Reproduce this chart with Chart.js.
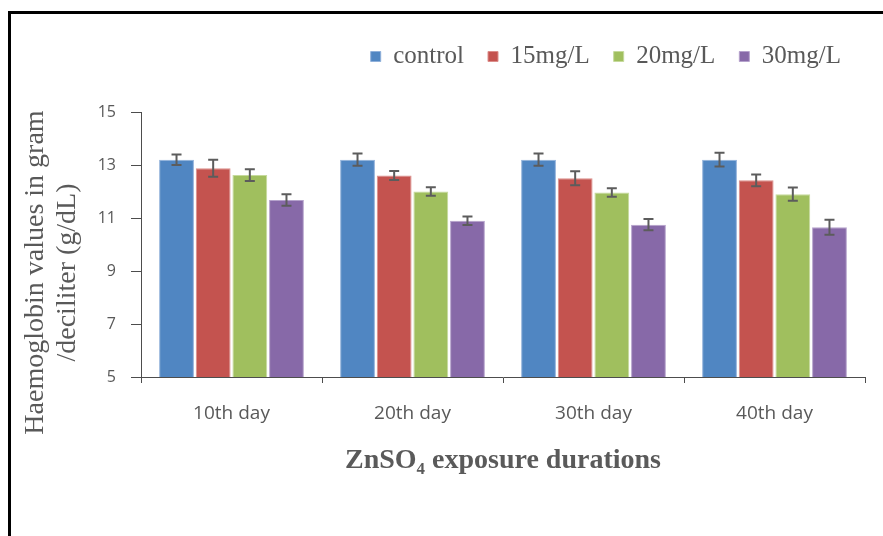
<!DOCTYPE html>
<html>
<head>
<meta charset="utf-8">
<script src="https://cdn.jsdelivr.net/npm/chart.js@4.4.1/dist/chart.umd.min.js"></script>
<style>
  html, body { margin: 0; padding: 0; background: #fff; overflow: hidden; }
  #wrap { position: relative; width: 883px; height: 536px; overflow: hidden; }
  #frame { position: absolute; left: 8px; top: 11px; width: 2000px; height: 2000px; border: 3px solid #000; pointer-events: none; }
  #hbChart { position: absolute; left: 0; top: 0; }
</style>
</head>
<body>
<div id="wrap">
  <div id="frame"></div>
  <canvas id="hbChart" width="883" height="536"></canvas>
</div>
<script>
// durations on the x axis
const days = ['10th day', '20th day', '30th day', '40th day']
const seriesNames = ['control', '15mg/L', '20mg/L', '30mg/L']

// haemoglobin (g/dL)
const control = [13.2, 13.2, 13.2, 13.2]
const mg15 = [12.88, 12.6, 12.5, 12.42]
const mg20 = [12.62, 12.0, 11.96, 11.9]
const mg30 = [11.68, 10.9, 10.75, 10.65]

// error bar half-lengths
const controlErr = [0.2, 0.23, 0.23, 0.26]
const mg15Err = [0.32, 0.17, 0.26, 0.22]
const mg20Err = [0.22, 0.16, 0.16, 0.25]
const mg30Err = [0.22, 0.16, 0.21, 0.28]

const yTicks = [5, 7, 9, 11, 13, 15]
const yTitleLines = ['Haemoglobin values in gram', '/deciliter (g/dL)']

const colors = ['#5086C2', '#C4534F', '#A0BF5E', '#8769A8']
const edges = ['#8FB0DA', '#DC8E8B', '#C6DA9C', '#B5A2CC']
const grey = '#595959'
const serif = '"Liberation Serif", "Times New Roman", serif'

const errorBars = {
  id: 'errorBars',
  afterDatasetsDraw(chart) {
    const { ctx, scales: { y } } = chart
    ctx.save()
    ctx.strokeStyle = '#5c5c5c'
    ctx.lineWidth = 2
    chart.data.datasets.forEach((ds, i) => {
      const meta = chart.getDatasetMeta(i)
      meta.data.forEach((bar, j) => {
        const v = ds.data[j]
        const e = ds.errors[j]
        const top = y.getPixelForValue(v + e)
        const bot = y.getPixelForValue(v - e)
        ctx.beginPath()
        ctx.moveTo(bar.x, top); ctx.lineTo(bar.x, bot)
        ctx.moveTo(bar.x - 5, top); ctx.lineTo(bar.x + 5, top)
        ctx.moveTo(bar.x - 5, bot); ctx.lineTo(bar.x + 5, bot)
        ctx.stroke()
      })
    })
    ctx.restore()
  }
}

// leave some room between the legend and the plot
const legendGap = {
  id: 'legendGap',
  beforeInit(chart) {
    const fit = chart.legend.fit
    chart.legend.fit = function () {
      fit.call(this)
      this.height += 33
    }
  }
}

// y title sits a bit below the middle of the axis, like in the original
const yTitle = {
  id: 'yTitle',
  afterDraw(chart) {
    const { ctx, chartArea } = chart
    const cy = (chartArea.top + chartArea.bottom) / 2 + 28
    ctx.save()
    ctx.translate(36, cy)
    ctx.rotate(-Math.PI / 2)
    ctx.font = '28px ' + serif
    ctx.fillStyle = grey
    ctx.textAlign = 'center'
    ctx.textBaseline = 'middle'
    yTitleLines.forEach((t, i) => ctx.fillText(t, 0, i * 32))
    ctx.restore()
  }
}

const values = [control, mg15, mg20, mg30]
const errs = [controlErr, mg15Err, mg20Err, mg30Err]

const ctx = document.getElementById('hbChart')

new Chart(ctx, {
  type: 'bar',
  data: {
    labels: days,
    datasets: seriesNames.map((name, i) => ({
      label: name,
      data: values[i],
      errors: errs[i],
      backgroundColor: colors[i],
      borderColor: edges[i],
      borderWidth: 1,
      categoryPercentage: 0.81,
      barPercentage: 0.95
    }))
  },
  options: {
    responsive: false,
    animation: false,
    devicePixelRatio: 1,
    layout: { padding: { left: 20, right: 18, top: 20, bottom: 40 } },
    plugins: {
      tooltip: { enabled: false },
      legend: {
        position: 'top',
        align: 'end',
        labels: {
          boxWidth: 10,
          boxHeight: 10,
          padding: 24,
          color: grey,
          font: { family: serif, size: 25 }
        }
      }
    },
    scales: {
      x: {
        afterFit: (scale) => { scale.height = 119 },
        grid: { drawOnChartArea: false, drawTicks: true, tickLength: 6, color: '#4d4d4d' },
        border: { display: true, color: '#4d4d4d', width: 1 },
        ticks: {
          color: grey,
          padding: 19,
          font: { family: '"Open Sans", sans-serif', size: 19 }
        },
        title: {
          display: true,
          text: 'ZnSO\u2084 exposure durations',
          color: '#5a5a5a',
          padding: { top: 0, bottom: 18 },
          font: { family: serif, size: 28, weight: 'bold' }
        }
      },
      y: {
        min: yTicks[0],
        max: yTicks[yTicks.length - 1],
        afterFit: (scale) => { scale.width = 121 },
        afterBuildTicks: (scale) => { scale.ticks = yTicks.map(v => ({ value: v })) },
        grid: { drawOnChartArea: false, drawTicks: true, tickLength: 10, color: '#4d4d4d' },
        border: { display: true, color: '#4d4d4d', width: 1 },
        ticks: {
          color: grey,
          padding: 15,
          font: { family: '"Open Sans", sans-serif', size: 16 }
        }
      }
    }
  },
  plugins: [errorBars, legendGap, yTitle]
})
</script>
</body>
</html>
